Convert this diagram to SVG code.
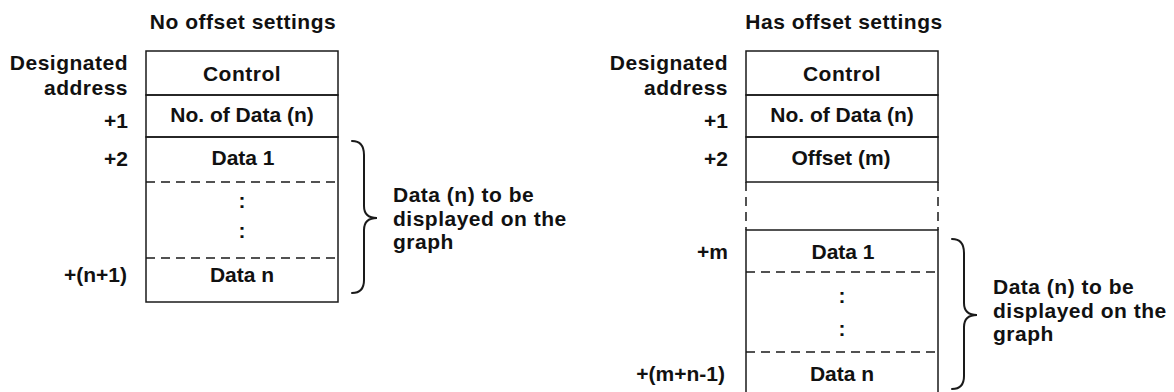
<svg xmlns="http://www.w3.org/2000/svg" width="1174" height="392" viewBox="0 0 1174 392">
<style>
.t{font-family:"Liberation Sans",Arial,sans-serif;font-weight:bold;font-size:21px;fill:#111}
.m{text-anchor:middle}
.r{text-anchor:end}
.s{stroke:#1a1a1a;stroke-width:1.5;fill:none}
.d{stroke-dasharray:9 6}
.b{stroke:#1a1a1a;stroke-width:2;fill:none;stroke-linecap:round}
</style>
<rect width="1174" height="392" fill="#fff"/>
<!-- Left diagram -->
<g id="left-title"><text class="t m" x="243" y="29" letter-spacing="0.5">No offset settings</text></g>
<g id="left-labels">
<text class="t r" x="128" y="70" letter-spacing="0.5">Designated</text>
<text class="t r" x="128" y="95" letter-spacing="0.5">address</text>
<text class="t r" x="128" y="128">+1</text>
<text class="t r" x="128" y="166">+2</text>
<text class="t r" x="127" y="282">+(n+1)</text>
</g>
<g id="left-control"><rect class="s" x="146" y="51" width="192" height="44"/><text class="t m" x="242" y="81" letter-spacing="0.5">Control</text></g>
<g id="left-count"><rect class="s" x="146" y="95" width="192" height="42"/><text class="t m" x="242" y="122">No. of Data (n)</text></g>
<g id="left-data">
<rect class="s" x="146" y="137" width="192" height="165"/>
<line class="s d" x1="146" y1="182" x2="338" y2="182"/>
<line class="s d" x1="146" y1="258" x2="338" y2="258"/>
<text class="t m" x="243" y="165">Data 1</text>
<text class="t m" x="242" y="208">:</text>
<text class="t m" x="242" y="238">:</text>
<text class="t m" x="242" y="282">Data n</text>
</g>
<g id="left-note">
<text class="t" x="393" y="202" letter-spacing="0.5">Data (n) to be</text>
<text class="t" x="393" y="226" letter-spacing="0.5">displayed on the</text>
<text class="t" x="393" y="249" letter-spacing="0.5">graph</text>
</g>
<!-- Right diagram -->
<g id="right-title"><text class="t m" x="844" y="29" letter-spacing="0.5">Has offset settings</text></g>
<g id="right-labels">
<text class="t r" x="728" y="70" letter-spacing="0.5">Designated</text>
<text class="t r" x="728" y="95" letter-spacing="0.5">address</text>
<text class="t r" x="728" y="128">+1</text>
<text class="t r" x="728" y="166">+2</text>
<text class="t r" x="728" y="259">+m</text>
<text class="t r" x="725" y="381">+(m+n-1)</text>
</g>
<g id="right-control"><rect class="s" x="746" y="51" width="192" height="44"/><text class="t m" x="842" y="81" letter-spacing="0.5">Control</text></g>
<g id="right-count"><rect class="s" x="746" y="95" width="192" height="42"/><text class="t m" x="842" y="122">No. of Data (n)</text></g>
<g id="right-offset"><rect class="s" x="746" y="137" width="192" height="45"/><text class="t m" x="841" y="165">Offset (m)</text></g>
<g id="right-gap">
<line class="s d" x1="746" y1="182" x2="746" y2="230"/>
<line class="s d" x1="938" y1="182" x2="938" y2="230"/>
</g>
<g id="right-data">
<path class="s" d="M746,400 V230 H938 V400"/>
<line class="s d" x1="746" y1="272" x2="938" y2="272"/>
<line class="s d" x1="746" y1="352" x2="938" y2="352"/>
<text class="t m" x="843" y="259">Data 1</text>
<text class="t m" x="842" y="303">:</text>
<text class="t m" x="842" y="336">:</text>
<text class="t m" x="842" y="381">Data n</text>
</g>
<g id="right-note">
<text class="t" x="993" y="294" letter-spacing="0.5">Data (n) to be</text>
<text class="t" x="993" y="318" letter-spacing="0.5">displayed on the</text>
<text class="t" x="993" y="341" letter-spacing="0.5">graph</text>
</g>
<g id="connectors">
<path class="b" d="M352,141 Q364,141 364,155 L364,206 Q364,218 377,218 Q364,218 364,230 L364,280 Q364,293 352,293"/>
<path class="b" d="M952,239 Q964,239 964,253 L964,303 Q964,315 977,315 Q964,315 964,327 L964,376 Q964,389 952,389"/>
</g>
</svg>
